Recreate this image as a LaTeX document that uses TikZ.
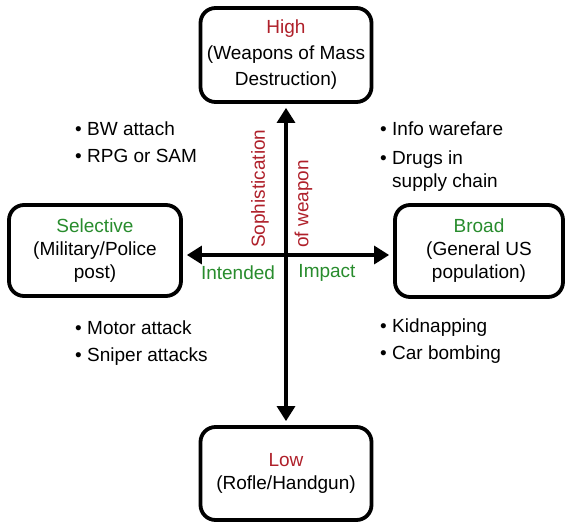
\documentclass[tikz,border=0pt]{standalone}
\usepackage{fontspec}
\setmainfont{Liberation Sans}
\usepackage{tikz}
\usetikzlibrary{arrows.meta,positioning,calc}

\definecolor{levelred}{RGB}{175,32,42}
\definecolor{scopegreen}{RGB}{40,140,45}
\newcommand{\itm}{\makebox[12pt][l]{•}}

\begin{document}
\begin{tikzpicture}[
  x=1pt,y=-1pt,
  font=\fontsize{19}{23}\selectfont,
  >={Triangle[length=15pt,width=18pt]},
  catbox/.style={draw,line width=3.8pt,rounded corners=15pt,align=center,inner sep=0pt},
  axis/.style={line width=3.2pt,<->,shorten >=4pt,shorten <=4pt},
  cases/.style={align=left,anchor=north west,inner sep=0pt},
  axlabel/.style={inner sep=0pt},
]
\useasboundingbox (0,0) rectangle (567,524);

\coordinate (o) at (286,255);

% the four ends of the two scales
\node[catbox,minimum width=171pt,minimum height=94pt,font=\fontsize{19}{26}\selectfont] (high) at (286,55)
  {\textcolor{levelred}{High}\\(Weapons of Mass\\Destruction)};
\node[catbox,minimum width=171pt,minimum height=93pt] (low) at (286,473.5)
  {\textcolor{levelred}{Low}\\(Rofle/Handgun)};
\node[catbox,minimum width=172pt,minimum height=91pt] (sel) at (95,250.5)
  {\textcolor{scopegreen}{Selective}\\(Military/Police\\post)};
\node[catbox,minimum width=168pt,minimum height=92pt] (brd) at (479,251)
  {\textcolor{scopegreen}{Broad}\\(General US\\population)};

% axes
\draw[axis] (high.south) -- (low.north);
\draw[axis] (sel.east |- o) -- (brd.west |- o);

\node[axlabel,rotate=90,anchor=west,text=levelred] (soph) at (260,248) {Sophistication};
\node[axlabel,rotate=90,anchor=west,text=levelred] (weap) at (303.5,248) {of weapon};
\node[axlabel,text=scopegreen] (intd) at (238,273) {Intended};
\node[axlabel,text=scopegreen] (imp) at (327,273) {Impact};

% example attacks per quadrant
\node[cases] (q1) at (75,122) {\itm BW attach\\[4pt]\itm RPG or SAM};
\node[cases] (q2) at (380,122) {\itm Info warefare\\[6pt]\itm Drugs in\\\hspace*{12pt}supply chain};
\node[cases] (q3) at (75,321) {\itm Motor attack\\[4pt]\itm Sniper attacks};
\node[cases] (q4) at (380,319) {\itm Kidnapping\\[4pt]\itm Car bombing};
\end{tikzpicture}
\end{document}
